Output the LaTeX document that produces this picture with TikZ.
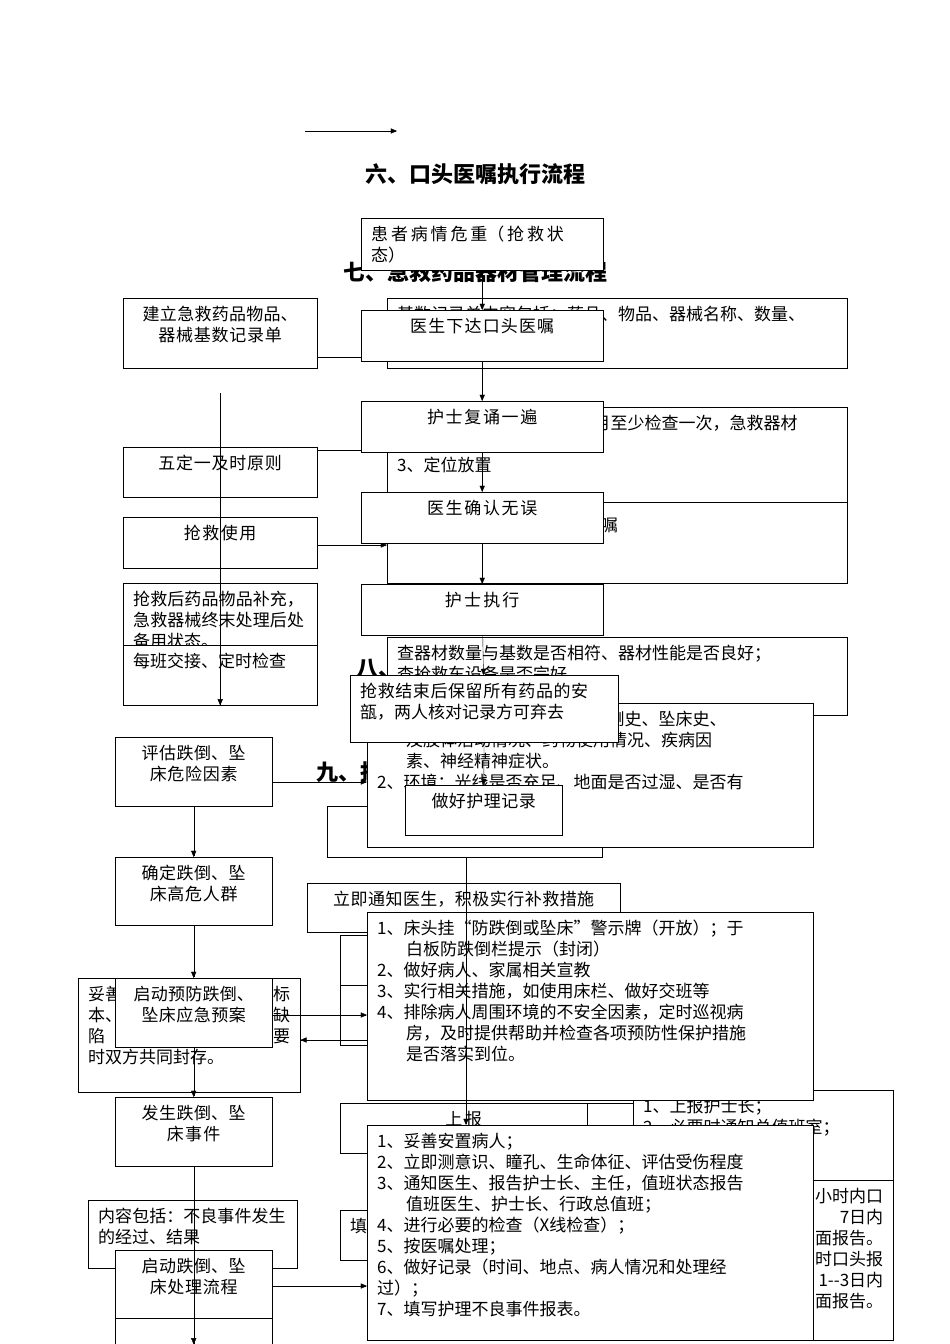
\documentclass[tikz,border=0pt]{standalone}
\usepackage{fontspec}
\setmainfont{Liberation Serif}
\newfontfamily\cjk{Noto Sans CJK SC}
\XeTeXlinebreaklocale "zh"
\XeTeXlinebreakskip=0pt plus 1pt
\usetikzlibrary{arrows}
\tikzset{
  box/.style={draw,fill=white,inner sep=0pt,anchor=north west},
  txt/.style={inner sep=0pt,anchor=north,font=\cjk\fontsize{17}{21}\selectfont},
  ttl/.style={inner sep=0pt,font=\cjk\bfseries\fontsize{22}{26}\selectfont},
  flow/.style={-triangle 45,thin}
}
% box: name, x1, y1, x2, y2, align, text
\newcommand\bx[7]{%
  \pgfmathsetmacro\bw{#4-#2}\pgfmathsetmacro\bh{#5-#3}\pgfmathsetmacro\tw{#4-#2-20}%
  \node[box,minimum width=\bw pt,minimum height=\bh pt] (#1) at (#2,#3) {};
  \node[txt,text width=\tw pt,align=#6] (#1t) at ([yshift=-8pt]#1.north) {#7};}
\begin{document}
\begin{tikzpicture}[x=1pt,y=-1pt]
\useasboundingbox (0,0) rectangle (950,1344);
% 标题
\coordinate (t0) at (305,131);
\coordinate (t1) at (397,131);
\draw[flow] (t0) -- (t1);
\node[ttl] (title6) at (475,174) {六、口头医嘱执行流程};
\node[ttl] (title7) at (475,272) {七、急救药品器材管理流程};
\node[ttl] (title8) at (400,668) {八、跌倒};
\node[ttl] (title9) at (360,772) {九、护理};
% 行高参考点
\foreach \n/\y in {r357/357,r450/450,r545/545,r782/782,r1015/1015,r1040/1040,r1286/1286,r393/393}
  \coordinate (\n) at (0,\y);
\coordinate (v466) at (466,0);
% 七：右侧说明
\bx{b1}{387}{298}{847}{368}{left}{基数记录单内容包括：药品、物品、器械名称、数量、}
\bx{b2}{387}{407}{847}{502}{left}{1、定期检查（急救药品每月至少检查一次，急救器材\\\hspace*{1.7em}每周至少检查一次）\\3、定位放置}
\bx{b3}{387}{502}{847}{583}{left}{\\抢救时医生在抢救后补开医嘱}
\bx{b4}{387}{637}{847}{715}{left}{查器材数量与基数是否相符、器材性能是否良好；\\查抢救车设备是否完好}
% 七：左侧流程
\bx{a1}{123}{298}{317}{368}{center}{建立急救药品物品、\\器械基数记录单}
\bx{a2}{123}{447}{317}{497}{center}{五定一及时原则}
\bx{a3}{123}{517}{317}{568}{center}{抢救使用}
\bx{a4}{123}{583}{317}{645}{left}{抢救后药品物品补充，急救器械终末处理后处备用状态。}
\bx{a5}{123}{645}{317}{705}{left}{每班交接、定时检查}
\draw[flow] (a1.south |- r393) -- (a5.south);
\draw[flow] (a1.east |- r357) -- (b1.west |- r357);
\draw[flow] (a2.east |- r450) -- (b2.west |- r450);
\draw[flow] (a3.east |- r545) -- (b3.west |- r545);
% 九：右侧说明
\bx{d0}{327}{806}{602}{857}{left}{}
\bx{d1}{367}{703}{813}{847}{left}{1、病人：年龄、意识状况、跌倒史、坠床史、\\\hspace*{1.7em}及肢体活动情况、药物使用情况、疾病因\\\hspace*{1.7em}素、神经精神症状。\\2、环境：光线是否充足、地面是否过湿、是否有}
\bx{d2}{307}{883}{620}{932}{center}{立即通知医生，积极实行补救措施}
\bx{s1}{340}{935}{367}{985}{left}{}
\bx{s2}{340}{985}{367}{1045}{left}{}
\bx{e1}{340}{1103}{587}{1153}{center}{上报}
\bx{e0}{587}{1103}{633}{1153}{left}{}
\bx{e2}{633}{1090}{893}{1180}{left}{1、上报护士长；\\2、必要时通知总值班室；\\\hspace*{1.7em}报告护士长、}
\bx{e3}{633}{1180}{893}{1340}{left}{\hfill 小时内口\\\hfill 7日内\\\hfill 面报告。\\\hfill 时口头报\\\hfill 1--3日内\\\hfill 面报告。}
\bx{e4}{340}{1210}{367}{1260}{left}{填}
\bx{d3}{367}{912}{813}{1100}{left}{1、床头挂“防跌倒或坠床”警示牌（开放）；于\\\hspace*{1.7em}白板防跌倒栏提示（封闭）\\2、做好病人、家属相关宣教\\3、实行相关措施，如使用床栏、做好交班等\\4、排除病人周围环境的不安全因素，定时巡视病\\\hspace*{1.7em}房，及时提供帮助并检查各项预防性保护措施\\\hspace*{1.7em}是否落实到位。}
\bx{e5}{367}{1125}{813}{1340}{left}{1、妥善安置病人；\\2、立即测意识、瞳孔、生命体征、评估受伤程度\\3、通知医生、报告护士长、主任，值班状态报告\\\hspace*{1.7em}值班医生、护士长、行政总值班；\\4、进行必要的检查（X线检查）；\\5、按医嘱处理；\\6、做好记录（时间、地点、病人情况和处理经\\过）；\\7、填写护理不良事件报表。}
\draw[flow] (v466 |- d0.south) -- (v466 |- e5.north);
% 九：左侧流程
\bx{g1}{78}{978}{300}{1092}{left}{妥善\hfill 标\\本、\hfill 缺\\陷\hfill 要\\时双方共同封存。}
\bx{g2}{88}{1200}{297}{1268}{left}{内容包括：不良事件发生的经过、结果}
\bx{c1}{115}{737}{272}{806}{center}{评估跌倒、坠\\床危险因素}
\bx{c2}{115}{857}{272}{925}{center}{确定跌倒、坠\\床高危人群}
\bx{c3}{115}{978}{272}{1047}{center}{启动预防跌倒、\\坠床应急预案}
\bx{c4}{115}{1097}{272}{1166}{center}{发生跌倒、坠\\床事件}
\bx{c5}{115}{1250}{272}{1318}{center}{启动跌倒、坠\\床处理流程}
\bx{c6}{115}{1318}{272}{1344}{center}{}
\draw[flow] (c1) -- (c2);
\draw[flow] (c2) -- (c3);
\draw[flow] (c3) -- (c4);
\draw[flow] (c4) -- (c6.south);
\draw[flow] (c1.east |- r782) -- (d1.west |- r782);
\draw[flow] (c3.east |- r1015) -- (d3.west |- r1015);
\draw[flow] (d3.west |- r1040) -- (g1.east |- r1040);
\draw[flow] (c5.east |- r1286) -- (e5.west |- r1286);
% 六：口头医嘱
\bx{f1}{361}{218}{603}{270}{left}{患\,者\,病\,情\,危\,重（\,抢\,救\,状\\态）}
\bx{f2}{361}{310}{603}{361}{center}{医生下达口头医嘱}
\bx{f3}{361}{401}{603}{452}{center}{护士复诵一遍}
\bx{f4}{361}{492}{603}{543}{center}{医生确认无误}
\bx{f5}{361}{584}{603}{635}{center}{护士执行}
\bx{f6}{350}{675}{618}{742}{left}{抢救结束后保留所有药品的安瓿，两人核对记录方可弃去}
\bx{f7}{405}{785}{562}{835}{center}{做好护理记录}
\draw[flow] (f1) -- (f2);
\draw[flow] (f2) -- (f3);
\draw[flow] (f3) -- (f4);
\draw[flow] (f4) -- (f5);
\draw[flow] (f5) -- (f6);
\draw[flow] (f6) -- (f7);
\end{tikzpicture}
\end{document}
